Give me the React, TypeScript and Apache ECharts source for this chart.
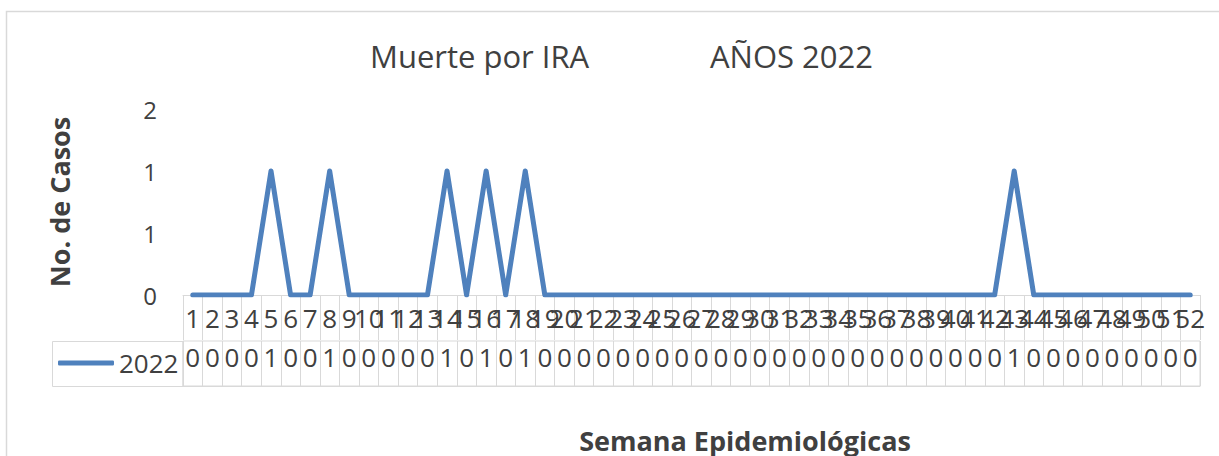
import React, { useEffect, useRef } from "react";
import * as echarts from "echarts";

const weeks: string[] = Array.from({ length: 52 }, (_, i) => String(i + 1));
const values2022: number[] = [
  0, 0, 0, 0, 1, 0, 0, 1, 0, 0, 0, 0, 0, 1, 0, 1, 0, 1, 0, 0,
  0, 0, 0, 0, 0, 0, 0, 0, 0, 0, 0, 0, 0, 0, 0, 0, 0, 0, 0, 0,
  0, 0, 1, 0, 0, 0, 0, 0, 0, 0, 0, 0,
];
const seriesName = "2022";
const titleLeft = "Muerte por IRA";
const titleRight = "AÑOS 2022";
const yTitle = "No. de Casos";
const xTitle = "Semana Epidemiológicas";

const FONT = "'Open Sans', sans-serif";
const TXT = "#404040";
const GRIDC = "#d9d9d9";
const BLUE = "#4f81bd";

export default function App() {
  const ref = useRef<HTMLDivElement>(null);
  useEffect(() => {
    if (!ref.current) return;
    const chart = echarts.init(ref.current, undefined, { renderer: "svg" });
    chart.setOption({
      animation: false,
      backgroundColor: "#ffffff",
      textStyle: { fontFamily: FONT },
      grid: [
        { left: 183, right: 19, top: 109, height: 186 },
        { left: 183, right: 19, top: 341, height: 45, show: true, borderColor: GRIDC, borderWidth: 1 },
      ],
      xAxis: [
        {
          gridIndex: 0,
          type: "category",
          data: weeks,
          boundaryGap: true,
          axisLine: { show: true, lineStyle: { color: GRIDC, width: 1 } },
          axisTick: { show: true, length: 45, lineStyle: { color: GRIDC, width: 1 } },
          axisLabel: { interval: 0, hideOverlap: false, fontSize: 26, color: TXT, fontFamily: FONT, margin: 10 },
          splitLine: { show: false },
        },
        {
          gridIndex: 1,
          type: "category",
          data: weeks,
          position: "top",
          boundaryGap: true,
          axisLine: { show: true, lineStyle: { color: GRIDC, width: 1 } },
          axisTick: { show: false },
          splitLine: { show: true, interval: 0, lineStyle: { color: GRIDC, width: 1 } },
          axisLabel: {
            inside: true,
            interval: 0,
            hideOverlap: false,
            margin: 3,
            fontSize: 26,
            color: TXT,
            fontFamily: FONT,
            formatter: (_v: string, i: number) => String(values2022[i]),
          },
        },
      ],
      yAxis: [
        {
          gridIndex: 0,
          type: "value",
          min: 0,
          max: 1.5,
          interval: 0.5,
          axisLine: { show: false },
          axisTick: { show: false },
          splitLine: { show: false },
          axisLabel: {
            fontSize: 24,
            color: TXT,
            fontFamily: FONT,
            margin: 26,
            formatter: (v: number) => String(Math.round(v)),
          },
          name: yTitle,
          nameLocation: "middle",
          nameGap: 110,
          nameTextStyle: { fontSize: 27, fontWeight: "bold", color: TXT, fontFamily: FONT },
        },
        { gridIndex: 1, type: "value", show: false },
      ],
      legend: {
        left: 58,
        top: 350,
        padding: 0,
        itemWidth: 56,
        itemHeight: 5,
        itemGap: 5,
        icon: "roundRect",
        itemStyle: { color: BLUE, borderWidth: 0 },
        textStyle: { fontSize: 26, color: TXT, fontFamily: FONT },
        data: [seriesName],
      },
      graphic: [
        {
          type: "rect",
          z: -10,
          shape: { x: 6.5, y: 11.5, width: 1400, height: 600 },
          style: { fill: "none", stroke: GRIDC, lineWidth: 1.5 },
        },
        {
          type: "rect",
          shape: { x: 52.5, y: 341.5, width: 130.5, height: 45 },
          style: { fill: "none", stroke: GRIDC, lineWidth: 1 },
        },
        {
          type: "text",
          x: 370,
          y: 56,
          style: { text: titleLeft, font: `31px ${FONT}`, fill: TXT, textAlign: "left", textVerticalAlign: "middle" },
        },
        {
          type: "text",
          x: 710,
          y: 56,
          style: { text: titleRight, font: `31px ${FONT}`, fill: TXT, textAlign: "left", textVerticalAlign: "middle" },
        },
        {
          type: "text",
          x: 745,
          y: 440,
          style: {
            text: xTitle,
            font: `bold 27px ${FONT}`,
            lineHeight: 26,
            fill: TXT,
            textAlign: "center",
            textVerticalAlign: "middle",
          },
        },
      ],
      series: [
        {
          name: seriesName,
          type: "line",
          xAxisIndex: 0,
          yAxisIndex: 0,
          data: values2022,
          symbol: "none",
          lineStyle: { color: BLUE, width: 5, cap: "round", join: "round" },
          itemStyle: { color: BLUE },
        },
      ],
    });
    return () => chart.dispose();
  }, []);
  return (
    <div
      ref={ref}
      style={{ position: "fixed", left: 0, top: 0, width: 1219, height: 456, background: "#fff" }}
    />
  );
}
